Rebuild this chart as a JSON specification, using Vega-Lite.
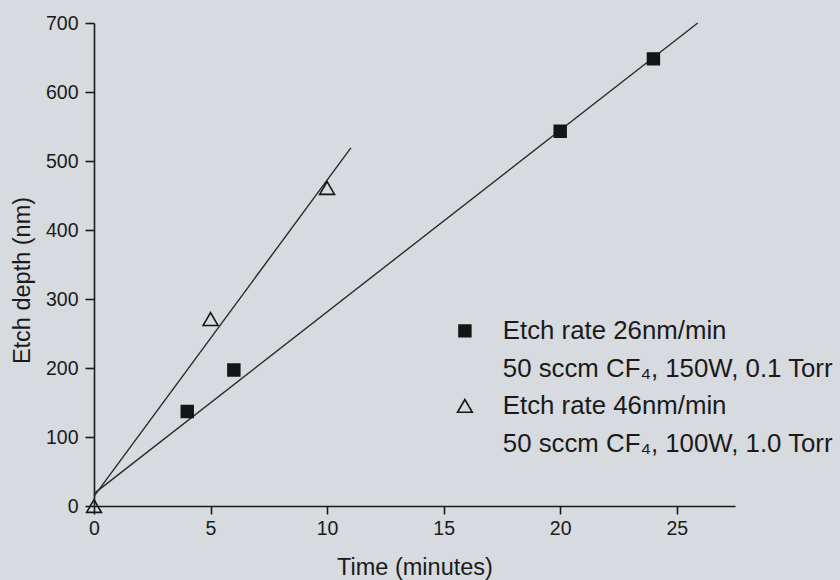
{
  "$schema": "https://vega.github.io/schema/vega-lite/v6.json",
  "autosize": {"type": "none"},
  "padding": {"left": 94, "top": 23, "right": 105, "bottom": 74},
  "width": 641,
  "height": 483,
  "background": "#d7dadf",
  "config": {
    "view": {"stroke": null},
    "font": "Liberation Sans",
    "style": {"guide-label": {"lineHeight": 38}},
    "axis": {
      "domainColor": "#1a1a1a",
      "tickColor": "#1a1a1a",
      "labelColor": "#1a1a1a",
      "titleColor": "#1a1a1a",
      "labelFont": "Liberation Sans",
      "titleFont": "Liberation Sans",
      "labelFontSize": 19.5,
      "titleFontSize": 23.5,
      "titleFontWeight": "normal",
      "grid": false,
      "domainWidth": 1.6,
      "tickWidth": 1.6,
      "tickSize": 8,
      "labelFlush": false
    }
  },
  "datasets": {
    "points": [
      {"series": "a", "time": 4, "depth": 137},
      {"series": "a", "time": 6, "depth": 197},
      {"series": "a", "time": 20, "depth": 543},
      {"series": "a", "time": 24, "depth": 648},
      {"series": "b", "time": 0, "depth": 0},
      {"series": "b", "time": 5, "depth": 271},
      {"series": "b", "time": 10, "depth": 461}
    ],
    "fits": [
      {"series": "a", "time": 0, "depth": 18},
      {"series": "a", "time": 25.9, "depth": 700},
      {"series": "b", "time": 0, "depth": 14},
      {"series": "b", "time": 11.02, "depth": 519}
    ]
  },
  "layer": [
    {
      "data": {"name": "fits"},
      "mark": {"type": "line", "color": "#2a2a2a", "strokeWidth": 1.4},
      "encoding": {
        "x": {"field": "time", "type": "quantitative"},
        "y": {"field": "depth", "type": "quantitative"},
        "detail": {"field": "series"}
      }
    },
    {
      "data": {"name": "points"},
      "mark": {"type": "point", "stroke": "#151515", "strokeWidth": 1.6, "opacity": 1},
      "encoding": {
        "x": {
          "field": "time", "type": "quantitative",
          "scale": {"domain": [0, 27.5], "nice": false, "zero": false},
          "axis": {"values": [0, 5, 10, 15, 20, 25], "title": "Time (minutes)", "labelPadding": 5, "titleY": 61, "titleBaseline": "middle"}
        },
        "y": {
          "field": "depth", "type": "quantitative",
          "scale": {"domain": [0, 700], "nice": false},
          "axis": {"values": [0, 100, 200, 300, 400, 500, 600, 700], "title": "Etch depth (nm)", "tickSize": 9, "labelPadding": 7, "titleX": -72, "titleY": 257, "titleBaseline": "middle"}
        },
        "shape": {
          "field": "series", "type": "nominal",
          "scale": {"domain": ["a", "b"], "range": ["square", "triangle-up"]},
          "legend": {
            "title": null,
            "orient": "none",
            "legendX": 358,
            "legendY": 295,
            "labelExpr": "datum.value == 'a' ? ['Etch rate 26nm/min', '50 sccm CF₄, 150W, 0.1 Torr'] : ['Etch rate 46nm/min', '50 sccm CF₄, 100W, 1.0 Torr']",
            "labelFontSize": 25.8,
            "labelFont": "Liberation Sans",
            "labelColor": "#1a1a1a",
            "labelLimit": 500,
            "symbolStrokeWidth": 1.6,
            "symbolOffset": 0,
            "labelOffset": 25,
            "rowPadding": 10
          }
        },
        "fill": {
          "field": "series", "type": "nominal",
          "scale": {"domain": ["a", "b"], "range": ["#151515", "transparent"]}
        },
        "size": {
          "field": "series", "type": "nominal",
          "scale": {"domain": ["a", "b"], "range": [140, 220]}
        }
      }
    }
  ]
}
